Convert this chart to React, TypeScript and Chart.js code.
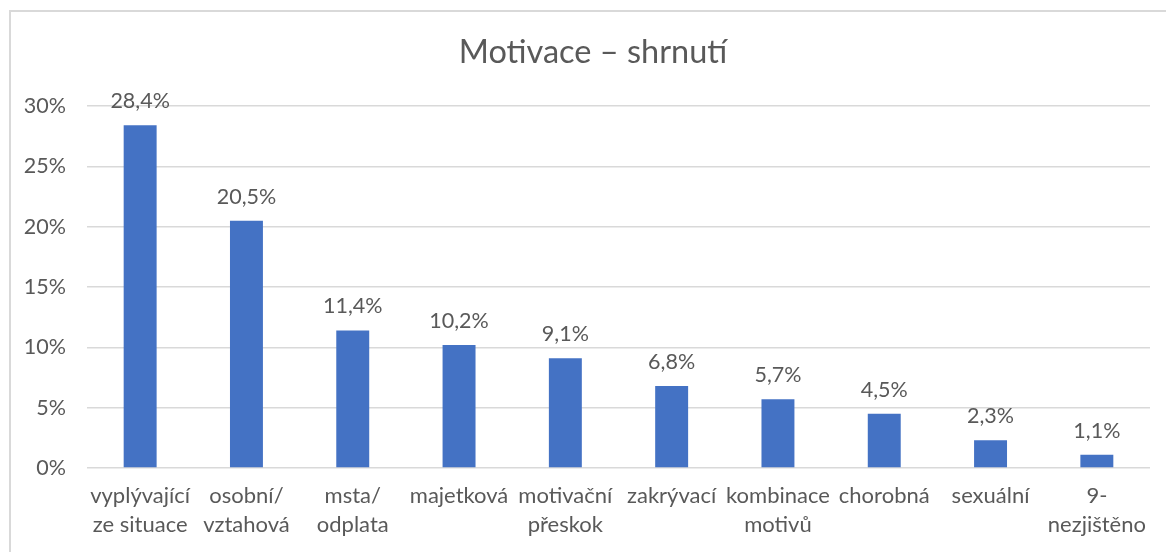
import React, { useEffect, useRef } from "react";
import { Chart, registerables } from "chart.js";

Chart.register(...registerables);

const categories: string[][] = [
  ["vyplývající", "ze situace"],
  ["osobní/", "vztahová"],
  ["msta/", "odplata"],
  ["majetková"],
  ["motivační", "přeskok"],
  ["zakrývací"],
  ["kombinace", "motivů"],
  ["chorobná"],
  ["sexuální"],
  ["9-", "nezjištěno"],
];
const values: number[] = [28.4, 20.5, 11.4, 10.2, 9.1, 6.8, 5.7, 4.5, 2.3, 1.1];
const yTicks: number[] = [0, 5, 10, 15, 20, 25, 30];
const titleText = "Motivace – shrnutí";

const FONT = "Lato, 'Open Sans', sans-serif";
const TEXT = "#595959";

const fmt = (v: number) => v.toFixed(1).replace(".", ",") + "%";

export default function App() {
  const ref = useRef<HTMLCanvasElement | null>(null);
  useEffect(() => {
    if (!ref.current) return;
    const labelPlugin = {
      id: "labels",
      afterDatasetsDraw(chart: any) {
        const ctx = chart.ctx;
        const meta = chart.getDatasetMeta(0);
        ctx.save();
        ctx.font = `21.5px ${FONT}`;
        ctx.fillStyle = TEXT;
        ctx.textAlign = "center";
        ctx.textBaseline = "middle";
        meta.data.forEach((bar: any, i: number) => {
          ctx.fillText(fmt(values[i]), bar.x, bar.y - 24);
        });
        ctx.restore();
      },
      afterDraw(chart: any) {
        const ctx = chart.ctx;
        ctx.save();
        ctx.font = `32.5px ${FONT}`;
        ctx.fillStyle = TEXT;
        ctx.textAlign = "center";
        ctx.textBaseline = "alphabetic";
        ctx.fillText(titleText, 593, 63);
        ctx.restore();
      },
    };
    const chart = new Chart(ref.current, {
      type: "bar",
      data: {
        labels: categories,
        datasets: [
          {
            data: values,
            backgroundColor: "#4472C4",
            barPercentage: 0.31,
            categoryPercentage: 1,
          },
        ],
      },
      options: {
        animation: false,
        responsive: false,
        layout: { padding: { top: 106, left: 0, right: 16, bottom: 0 } },
        plugins: { legend: { display: false }, tooltip: { enabled: false } },
        scales: {
          x: {
            grid: { display: false, drawTicks: false },
            border: { display: false },
            ticks: {
              color: TEXT,
              font: { family: FONT, size: 22, lineHeight: 1.3 },
              padding: 14,
              maxRotation: 0,
              autoSkip: false,
            },
            afterFit: (s: any) => {
              s.height = 84;
            },
          },
          y: {
            min: 0,
            max: 30,
            afterBuildTicks: (s: any) => {
              s.ticks = yTicks.map((v) => ({ value: v }));
            },
            grid: { color: "#d9d9d9", lineWidth: 1.5, drawTicks: false },
            border: { display: false },
            ticks: {
              color: TEXT,
              font: { family: FONT, size: 21.5 },
              padding: 21,
              callback: (v: any) => v + "%",
            },
            afterFit: (s: any) => {
              s.width = 87;
            },
          },
        },
      },
      plugins: [labelPlugin],
    });
    return () => chart.destroy();
  }, []);
  return (
    <div style={{ position: "fixed", left: 0, top: 0, width: 1166, height: 552, background: "#fff", overflow: "hidden" }}>
      <div
        style={{
          position: "absolute",
          left: 9,
          top: 10,
          width: 1200,
          height: 600,
          border: "2px solid #d9d9d9",
          boxSizing: "border-box",
        }}
      />
      <canvas ref={ref} width={1166} height={552} style={{ position: "absolute", left: 0, top: 0 }} />
    </div>
  );
}
